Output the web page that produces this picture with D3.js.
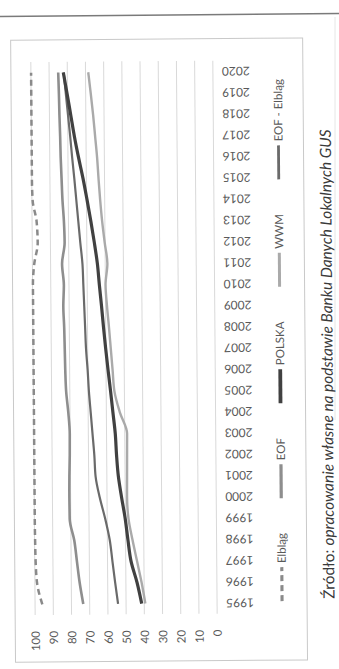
<!DOCTYPE html>
<head>
  <meta charset="utf-8">
  <script src="https://d3js.org/d3.v7.min.js"></script>
  <style>
    body { margin:0; background:#fff; }
    svg text { font-family: Lato, "Open Sans", sans-serif; fill:#595959; }
  </style>
</head>
<body>
  <div class="body"></div>
  <script>
    // categories (years) and value ticks
    const years = [1995,1996,1997,1998,1999,2000,2001,2002,2003,2004,2005,2006,2007,
                   2008,2009,2010,2011,2012,2013,2014,2015,2016,2017,2018,2019,2020];
    const valueTicks = [0,10,20,30,40,50,60,70,80,90,100];

    // series, one value per year (%)
    const elblag = [96,98.8,99.5,99.7,99.8,99.8,99.8,99.8,99.8,99.8,99.8,99.8,99.8,
                    99.8,99.8,99.8,99,97,97.5,99.6,99.9,99.9,99.9,99.9,99.9,99.9];
    const eof = [73.5,75.4,76.8,78.2,80.6,80.7,80.6,80.3,80.2,80.9,82,82.4,82.6,
                 82.8,83.2,82.8,83.7,82.2,82.5,83.2,83.6,84,84.2,84.5,84.7,85];
    const polska = [41.4,43.9,47.1,48.7,50.1,52,53.7,54.6,55.2,56.4,57.6,58.9,60.1,
                    61.2,62.2,63.3,64.3,65.9,67.7,69.7,71.8,74.2,76.4,78.3,80.2,82.2];
    const wwm = [39.4,41.4,43.8,46.2,48.3,49,48.9,48.8,48.7,52.6,55.5,56.4,57.3,
                 58.2,59.2,59.9,58.8,60.2,61.5,62.5,63.3,64,65,66,67.2,68.5];
    const eofBezElblaga = [54.4,55.9,57.3,58.7,61.1,64,66.2,66.8,67.7,68.6,69.5,70.1,70.9,
                           71.3,71.7,72.1,72.5,73.6,74.6,75.6,76.6,77.7,78.7,79.8,80.9,82];

    const seriesNames = ["Elbląg", "EOF", "POLSKA", "WWM", "EOF - Elbląg"];
    const seriesValues = [elblag, eof, polska, wwm, eofBezElblaga];
    const sourceText = ["Źródło: ", "opracowanie własne na podstawie Banku Danych Lokalnych GUS"];

    const styles = {
      "Elbląg":       {color:"#8a8a8a", width:2.5, dash:"6,4"},
      "EOF":          {color:"#8e8e8e", width:2.6, dash:null},
      "POLSKA":       {color:"#414141", width:3.2, dash:null},
      "WWM":          {color:"#aaaaaa", width:2.4, dash:null},
      "EOF - Elbląg": {color:"#6a6a6a", width:2.2, dash:null}
    };

    const W = 339, H = 669;
    const svg = d3.select(".body").append("svg")
      .attr("width", W).attr("height", H);

    // page edge seen at the top of the scan
    svg.append("line")
      .attr("x1", 0).attr("y1", 16.5).attr("x2", W).attr("y2", 13.5)
      .attr("stroke", "#7a7a7a").attr("stroke-width", 1.5);
    svg.append("line")
      .attr("x1", 335).attr("y1", 17).attr("x2", 335).attr("y2", 420)
      .attr("stroke", "#e6e6e6");

    // whole chart slightly tilted like the scan
    const g = svg.append("g").attr("transform", "rotate(-0.45,170,340)");

    g.append("rect")
      .attr("x", 13).attr("y", 39).attr("width", 292).attr("height", 622)
      .attr("fill", "none").attr("stroke", "#c9c9c9");

    const x = d3.scaleLinear().domain([0, 100]).range([215, 33]);
    const y = d3.scaleBand().domain(years).range([614, 61]);

    // grid
    g.append("g").selectAll("line").data(valueTicks).join("line")
      .attr("x1", d => x(d)).attr("x2", d => x(d))
      .attr("y1", y.range()[1]).attr("y2", y.range()[0])
      .attr("stroke", "#d9d9d9").attr("stroke-width", 1);

    // value axis (at the bottom, rotated labels)
    const ax = g.append("g")
      .attr("transform", "translate(0," + y.range()[0] + ")")
      .call(d3.axisBottom(x).tickValues(valueTicks).tickSize(0).tickPadding(0));
    ax.select(".domain").remove();
    ax.selectAll("text")
      .attr("x", 0).attr("y", 0).attr("dy", "0.35em")
      .attr("text-anchor", "end")
      .attr("transform", "translate(0,16) rotate(-90)")
      .attr("font-size", 11.5);

    // year axis (on the right, upside-down labels)
    const ay = g.append("g")
      .attr("transform", "translate(" + x(0) + ",0)")
      .call(d3.axisRight(y).tickSize(0).tickPadding(0));
    ay.select(".domain").remove();
    ay.selectAll("text")
      .attr("x", 0).attr("y", 0).attr("dy", "0.35em")
      .attr("text-anchor", "end")
      .attr("transform", "translate(9,0) rotate(180)")
      .attr("font-size", 12);

    // lines
    const line = d3.line()
      .x(d => x(d.v))
      .y(d => y(d.year) + y.bandwidth() / 2)
      .curve(d3.curveMonotoneY);

    const drawOrder = ["WWM", "EOF - Elbląg", "EOF", "POLSKA", "Elbląg"];
    drawOrder.forEach(function(name) {
      const vals = seriesValues[seriesNames.indexOf(name)];
      const s = styles[name];
      g.append("path")
        .datum(years.map((yr, i) => ({year: yr, v: vals[i]})))
        .attr("d", line)
        .attr("fill", "none")
        .attr("stroke", s.color)
        .attr("stroke-width", s.width)
        .attr("stroke-dasharray", s.dash)
        .attr("stroke-linejoin", "round");
    });

    // legend: vertical column, read bottom to top
    const legX = 280, swatch = 34, gapST = 4;
    const leg = g.append("g");
    const items = seriesNames.map(function(name) {
      const t = leg.append("text").text(name).attr("font-size", 11.5)
        .attr("text-anchor", "start").attr("dy", "0.35em");
      return {name: name, t: t, len: t.node().getComputedTextLength()};
    });
    const legBottom = 602, legTop = 80;
    const used = d3.sum(items, d => d.len + swatch + gapST);
    const gap = (legBottom - legTop - used) / (items.length - 1);
    let cur = legBottom;
    items.forEach(function(it) {
      const s = styles[it.name];
      leg.append("line")
        .attr("x1", legX).attr("x2", legX)
        .attr("y1", cur).attr("y2", cur - swatch)
        .attr("stroke", s.color).attr("stroke-width", s.width + 0.6)
        .attr("stroke-dasharray", s.dash);
      cur -= swatch + gapST;
      it.t.attr("transform", "translate(" + legX + "," + cur + ") rotate(-90)");
      cur -= it.len + gap;
    });

    // source note
    const src = g.append("text")
      .attr("text-anchor", "start")
      .attr("dy", "0.35em")
      .style("fill", "#3a3a3a");
    src.append("tspan").text(sourceText[0]);
    src.append("tspan").text(sourceText[1]).attr("font-style", "italic");
    src.attr("font-size", 13);
    const L = src.node().getComputedTextLength();
    src.attr("font-size", 13 * 470 / L)
      .attr("transform", "translate(327,600) rotate(-90)");
  </script>
</body>
